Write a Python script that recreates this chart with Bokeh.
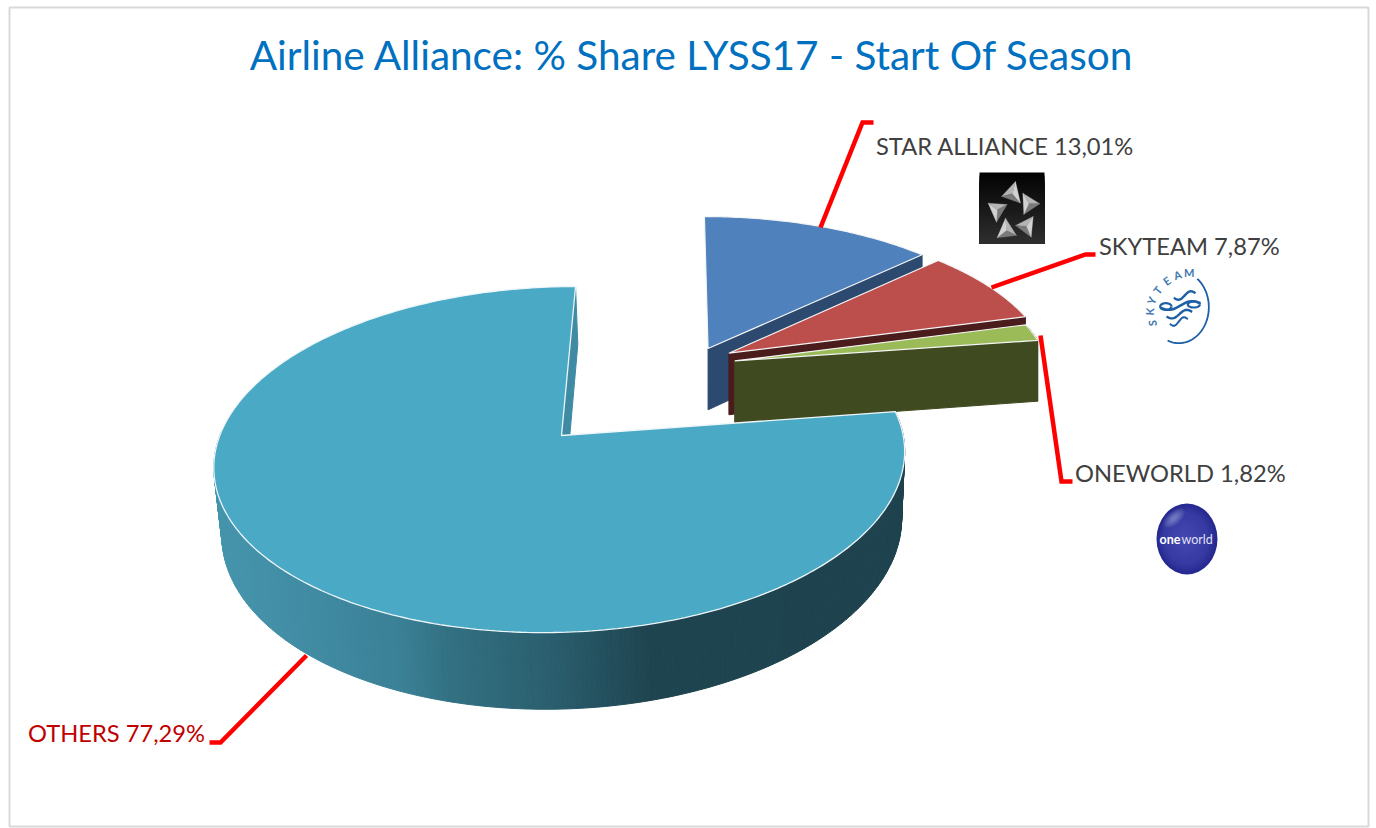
import numpy as np
from bokeh.embed import file_html
from bokeh.models import Range1d
from bokeh.plotting import figure
from bokeh.resources import INLINE
from bokeh.core.properties import value

# ---------- data ----------
title = "Airline Alliance: % Share LYSS17 - Start Of Season"
categories = ["STAR ALLIANCE", "SKYTEAM", "ONEWORLD", "OTHERS"]
shares = [13.01, 7.87, 1.82, 77.29]

# ---------- styles / layout ----------
top_colors = ["#4f81bd", "#bc4f4c", "#9bbb59", "#4aa9c4"]
wall_colors = ["#2c4a70", "#4b1c1c", "#404a20", "#3f8ba3"]
FONT = "Lato"
W, H = 1376, 828
X0, Y0, A, B, K, DEPTH, SKEW = 561.0, 435.0, 341.7, 169.7, 0.139, 66.0, 16.0
START_ANGLE = 90.0
EXPLODE = [(0.436, 0.552), (0.501, 0.520), (0.518, 0.468), (0.0, 0.0)]
RADIUS = [1.02, 1.0, 0.975, 1.0]

p = figure(width=W, height=H, x_range=Range1d(0, W), y_range=Range1d(H, 0),
           output_backend="svg", toolbar_location=None, min_border=0,
           x_axis_type=None, y_axis_type=None)
p.grid.visible = False
p.outline_line_color = None
p.background_fill_color = "white"
p.border_fill_color = "white"


def project(u, v, w=0.0, shrink=0.0, shift=0.0):
    u, v = np.asarray(u, float), np.asarray(v, float)
    s = 1.0 / (1.0 + K * v)
    x = X0 + (A * u + SKEW * v) * s * (1 - shrink * w) + shift * w
    y = Y0 - B * v * s + DEPTH * s * w
    return x, y


def rim(off, a0, a1, r=1.0, n=60):
    t = np.radians(np.linspace(a0, a1, n))
    return off[0] + r * np.cos(t), off[1] + r * np.sin(t)


def poly(xs, ys, fill, line=None, lw=1.0):
    p.patch(list(xs), list(ys), fill_color=fill, line_color=line or fill, line_width=lw)


def wall_quad(u0, v0, u1, v1, fill, shrink=0.0, shift=0.0):
    xa, ya = project([u0, u1], [v0, v1], 0)
    xb, yb = project([u1, u0], [v1, v0], 1, shrink, shift)
    poly(np.r_[xa, xb], np.r_[ya, yb], fill)


def lerp_hex(stops, x):
    xs = [s[0] for s in stops]
    rgb = np.array([[int(s[1][i:i + 2], 16) for i in (1, 3, 5)] for s in stops], float)
    c = [np.interp(x, xs, rgb[:, j]) for j in range(3)]
    return "#%02x%02x%02x" % tuple(int(round(v)) for v in c)


spans = [v / sum(shares) * 360.0 for v in shares]
ang = START_ANGLE
angles = []
for s in spans[:3]:
    angles.append((ang, ang - s))
    ang -= s
end_ang = ang

# chart frame
p.quad(left=[9], right=[1368], top=[7], bottom=[826], fill_color=None,
       line_color="#d9d9d9", line_width=2)

# exploded slices, back to front
for i in range(3):
    off = EXPLODE[i]
    a0, a1 = angles[i]
    ru, rv = rim(off, a0, a1, RADIUS[i])
    if i == 2:  # only the last slice shows a piece of its rim
        for j in range(len(ru) - 1):
            wall_quad(ru[j], rv[j], ru[j + 1], rv[j + 1], wall_colors[i])
    wall_quad(off[0], off[1], ru[-1], rv[-1], wall_colors[i])
    xa, ya = project(np.r_[off[0], ru], np.r_[off[1], rv])
    poly(xa, ya, top_colors[i], "#f4f4f4", 1.2)

# OTHERS (nearest)
SHRINK_O, SHIFT_O = 0.016, 2.5
t0 = np.radians(START_ANGLE)
wall_quad(0, 0, np.cos(t0), np.sin(t0), wall_colors[3], SHRINK_O, SHIFT_O)

wall_stops = [(215, "#4595ac"), (300, "#418ca4"), (400, "#3a8096"), (450, "#327082"),
              (550, "#2a5f6f"), (650, "#1e444f"), (910, "#1e434e")]
th = np.linspace(end_ang, end_ang - 190, 260)
tr = np.radians(th)
uu, vv = np.cos(tr), np.sin(tr)
for j in range(len(th) - 1):
    xm, _ = project([uu[j]], [vv[j]], 0)
    wall_quad(uu[j], vv[j], uu[j + 1], vv[j + 1], lerp_hex(wall_stops, xm[0]), SHRINK_O, SHIFT_O)

ta = np.radians(np.linspace(START_ANGLE, START_ANGLE + spans[3], 300))
xt, yt = project(np.r_[0, np.cos(ta)], np.r_[0, np.sin(ta)])
poly(xt, yt, top_colors[3], "#eef6f9", 1.3)

# leader lines
leaders = [
    ([820, 862, 873], [227, 122, 122]),
    ([991, 1085, 1095], [287, 254, 254]),
    ([1040, 1061, 1072], [335, 481, 481]),
    ([306, 220, 209], [655, 742, 742]),
]
for lx, ly in leaders:
    p.line(lx, ly, line_color="#ff0000", line_width=4.5, line_join="miter")

# texts
p.text([691.5], [53.5], text=[title], text_color="#0070c0", text_font=value(FONT),
       text_font_size="40.5px", text_align="center", text_baseline="middle")


def fmt(name, v):
    return f"{name} {v:.2f}%".replace(".", ",")


label_x = [875.5, 1098.5, 1074.5, 27.5]
label_y = [145, 245, 472, 732]
label_colors = ["#404040", "#404040", "#404040", "#c00000"]
for i, c in enumerate(categories):
    p.text([label_x[i]], [label_y[i]], text=[fmt(c, shares[i])], text_color=label_colors[i],
           text_font=value(FONT), text_font_size="23.7px", text_align="left",
           text_baseline="middle")

# --- STAR ALLIANCE logo ---
LX, LY = 979, 172
rows = np.linspace(0, 71, 24)
for a in rows[:-1]:
    c = lerp_hex([(0, "#030303"), (71, "#303030")], a)
    p.quad(left=[LX], right=[LX + 65], top=[LY + a], bottom=[LY + 71], fill_color=c, line_color=None)
stars = [
    [(975, 213), (933, 258), (990, 278)],
    [(997, 248), (1048, 280), (1000, 312)],
    [(893, 278), (950, 282), (918, 335)],
    [(1028, 318), (975, 345), (1022, 380)],
    [(945, 323), (978, 375), (920, 382)],
]
for tri in stars:
    pts = [(690 + x / 3, 110 + y / 3) for x, y in tri]
    cx = sum(q[0] for q in pts) / 3
    cy = sum(q[1] for q in pts) / 3
    for k in range(3):
        q0, q1 = pts[k], pts[(k + 1) % 3]
        shade = ["#b4b4b4", "#7a7a7a", "#d2d2d2"][k]
        p.patch([q0[0], q1[0], cx], [q0[1], q1[1], cy], fill_color=shade, line_color=shade, line_width=0.3)

# --- SKYTEAM logo ---
BLUE = "#1f5fa6"
zx = lambda x: 960 + np.asarray(x, float) / 3
zy = lambda y: 160 + np.asarray(y, float) / 3
t = np.radians(np.linspace(52, -112, 60))
p.line(zx(655 + 90 * np.cos(t)), zy(440 - 108 * np.sin(t)), line_color=BLUE, line_width=1.8)
# ribbon: four wavy bands
for x0, x1, y0, lw in zip([640, 600, 618, 628], [705, 720, 695, 682],
                          [412, 442, 468, 490], [2.4, 2.6, 2.4, 2.0]):
    f = np.linspace(0, 1, 30)
    p.line(zx(x0 + (x1 - x0) * f), zy(y0 - 14 * f + 9 * np.sin(f * 2 * np.pi)),
           line_color=BLUE, line_width=lw)
t = np.radians(np.linspace(0, 360, 40))
p.line(zx(616 + 17 * np.cos(t)), zy(438 + 10 * np.sin(t)), line_color=BLUE, line_width=2.2)
p.line(zx(700 + 18 * np.cos(t)), zy(432 + 9 * np.sin(t)), line_color=BLUE, line_width=2.2)
letters = "SKYTEAM"
lx = [575, 567, 573, 591, 619, 651, 686]
ly = [488, 453, 420, 389, 361, 343, 337]
rot = [92, 85, 68, 52, 35, 18, 0]
for ch, x, y, r in zip(letters, lx, ly, rot):
    p.text([zx(x)], [zy(y)], text=[ch], angle=[np.radians(r)], text_color="#3f78b0",
           text_font=value(FONT), text_font_style="bold", text_font_size="11px",
           text_align="center", text_baseline="middle")

# --- ONEWORLD logo ---
bx, by, brx, bry = 1186.5, 538.5, 30.5, 35.5
n = 16
for i in range(n):
    f = 1 - i / n
    c = lerp_hex([(0, "#4549b0"), (0.75, "#363aa2"), (1, "#262990")], f)
    p.ellipse([bx - (1 - f) * 4], [by - (1 - f) * 2], width=[2 * brx * f], height=[2 * bry * f],
              fill_color=c, line_color=None)
for i in range(7):
    f = 1 - i / 7
    p.ellipse([bx - 13], [by - 21], width=[26 * f], height=[13 * f],
              fill_color="#b4b7e6", line_color=None, fill_alpha=0.1, angle=[0.7])
p.text([1159], [538.5], text=["one"], text_color="white", text_font=value(FONT),
       text_font_style="bold", text_font_size="12.5px", text_align="left", text_baseline="middle")
p.text([1181], [538.5], text=["world"], text_color="#e0e0f4", text_font=value(FONT),
       text_font_size="12.5px", text_align="left", text_baseline="middle")

open("out.html", "w").write(file_html(p, INLINE))
